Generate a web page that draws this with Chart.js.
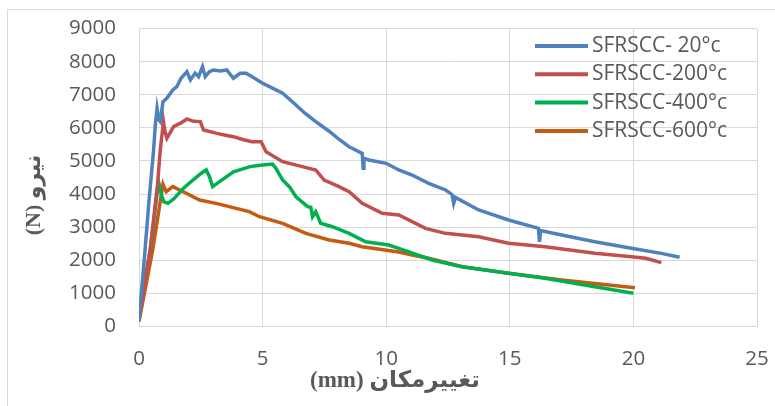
<!DOCTYPE html>
<html>
<head>
<meta charset="utf-8">
<script src="https://cdn.jsdelivr.net/npm/chart.js@4"></script>
<style>
    body { margin: 0; background: #fff; overflow: hidden; }
    #frame { position: absolute; left: 7px; top: 9px; width: 800px; height: 420px; border: 1px solid #d9d9d9; }
    #myChart { position: absolute; left: 0; top: 0; }
</style>
</head>
<body>
<div id="frame"></div>
<canvas id="myChart" width="775" height="406"></canvas>
<script>
// داده‌ها از روی نمودار خوانده شده
const seriesLabels = ['SFRSCC- 20°c', 'SFRSCC-200°c', 'SFRSCC-400°c', 'SFRSCC-600°c'];

const x20 = [0, 0.2, 0.39, 0.59, 0.66, 0.73, 0.8, 0.86, 0.97, 1.13, 1.37, 1.53, 1.7, 1.94, 2.08, 2.27, 2.41, 2.57, 2.68, 2.85,
    3.01, 3.3, 3.55, 3.82, 4.09, 4.33, 4.56, 5.0, 5.4, 5.81, 6.35, 6.7, 7.15, 7.69, 8.1, 8.5, 9.03, 9.07, 9.1, 9.3,
    10.0, 10.51, 11.05, 11.72, 12.4, 12.66, 12.73, 12.8, 13.74, 14.95, 16.16, 16.2, 16.25, 17.1, 18.44, 19.92, 21.13, 21.87];
const y20 = [200, 1900, 3670, 5330, 6090, 6590, 6250, 6190, 6790, 6900, 7145, 7245, 7500, 7700, 7450, 7650, 7550, 7850, 7550, 7700,
    7750, 7720, 7750, 7500, 7650, 7650, 7550, 7350, 7200, 7045, 6690, 6450, 6190, 5900, 5650, 5430, 5230, 4780, 5080, 5030,
    4930, 4730, 4577, 4325, 4124, 3990, 3720, 3900, 3520, 3218, 2966, 2560, 2900, 2764, 2560, 2363, 2210, 2090];

const x200 = [0, 0.45, 0.75, 0.86, 0.99, 1.05, 1.13, 1.4, 1.7, 1.94, 2.2, 2.48, 2.61, 3.15, 3.5, 3.82, 4.2, 4.56, 4.94, 5.14,
    5.81, 6.61, 7.15, 7.49, 8.09, 8.5, 9.03, 9.84, 10.51, 11.59, 12.4, 13.74, 14.95, 16.43, 18.44, 19.92, 20.5, 21.13];
const y200 = [200, 2300, 4300, 5330, 6190, 5900, 5685, 6040, 6150, 6270, 6200, 6190, 5935, 5835, 5780, 5735, 5650, 5585, 5585, 5280,
    4980, 4830, 4730, 4425, 4225, 4073, 3720, 3420, 3370, 2966, 2815, 2713, 2513, 2411, 2211, 2110, 2060, 1928];

const x400 = [0, 0.45, 0.79, 0.9, 1.0, 1.17, 1.4, 1.8, 2.18, 2.52, 2.72, 2.85, 2.98, 3.3, 3.82, 4.49, 5.0, 5.4, 5.54, 5.81,
    6.08, 6.35, 6.82, 6.95, 7.02, 7.15, 7.35, 7.82, 8.5, 9.17, 10.1, 10.51, 11.86, 13.07, 14.95, 16.43, 18.44, 20.0];
const y400 = [400, 2300, 4375, 4000, 3770, 3720, 3850, 4175, 4425, 4630, 4730, 4525, 4225, 4400, 4676, 4830, 4880, 4910, 4780, 4425,
    4225, 3920, 3620, 3600, 3317, 3470, 3118, 3015, 2815, 2562, 2462, 2362, 2009, 1806, 1607, 1456, 1202, 1003];

const x600 = [0, 0.55, 0.97, 1.1, 1.37, 1.91, 2.45, 3.12, 3.93, 4.46, 4.87, 5.81, 6.75, 7.69, 8.5, 9.03, 10.51, 11.05, 11.72,
    13.07, 14.95, 17.1, 20.06];
const y600 = [150, 2300, 4300, 4073, 4225, 4024, 3820, 3720, 3570, 3470, 3317, 3118, 2815, 2613, 2513, 2411, 2250, 2160, 2060,
    1806, 1607, 1405, 1172];

const xTitle = 'تغییرمکان (mm)';
const yTitle = 'نیرو (N)';

const colors = ['#4f81bd', '#c0504d', '#00b050', '#c55a11'];
const textColor = '#595959';

function toPoints(xs, ys) {
    return xs.map((x, i) => ({ x: x, y: ys[i] }));
}

// لژند و عنوان محورها دستی رسم می‌شوند
const extrasPlugin = {
    id: 'extras',
    afterDraw(chart) {
        const ctx = chart.ctx;
        ctx.save();
        chart.data.datasets.forEach((ds, i) => {
            const y = 46 + i * 28.3;
            ctx.strokeStyle = ds.borderColor;
            ctx.lineWidth = 4;
            ctx.beginPath();
            ctx.moveTo(535, y);
            ctx.lineTo(588, y);
            ctx.stroke();
            ctx.fillStyle = textColor;
            ctx.font = '21px "Open Sans"';
            ctx.textBaseline = 'middle';
            ctx.textAlign = 'left';
            ctx.fillText(ds.label, 592, y);
        });

        ctx.fillStyle = textColor;
        ctx.direction = 'rtl';
        ctx.textAlign = 'center';
        ctx.textBaseline = 'middle';
        ctx.font = 'bold 23px "Liberation Serif", "DejaVu Sans"';
        ctx.fillText(xTitle, 395, 381);

        ctx.translate(34, 195);
        ctx.rotate(-Math.PI / 2);
        ctx.font = 'bold 22px "Liberation Serif", "DejaVu Sans"';
        ctx.fillText(yTitle, 0, 0);
        ctx.restore();
    }
};

const datasets = [[x20, y20], [x200, y200], [x400, y400], [x600, y600]].map((d, i) => ({
    label: seriesLabels[i],
    data: toPoints(d[0], d[1]),
    borderColor: colors[i],
    backgroundColor: colors[i],
    borderWidth: 3.5,
    pointRadius: 0,
    tension: 0
}));

new Chart(document.getElementById('myChart'), {
    type: 'line',
    data: { datasets: datasets },
    options: {
        responsive: false,
        animation: false,
        layout: { padding: { left: 0, right: 18, top: 28.6, bottom: 0 } },
        scales: {
            x: {
                type: 'linear',
                min: 0,
                max: 25,
                ticks: { stepSize: 5, color: textColor, font: { family: 'Open Sans', size: 20.5 }, padding: 20 },
                grid: { color: '#d9d9d9', drawTicks: false },
                border: { color: '#d9d9d9' },
                afterFit(scale) {
                    scale.height = 79.5;
                    scale.paddingLeft = 0;
                    scale.paddingRight = 0;
                }
            },
            y: {
                min: 0,
                max: 9000,
                ticks: {
                    stepSize: 1000, color: textColor, font: { family: 'Open Sans', size: 20.5 }, padding: 23,
                    callback: value => String(value)
                },
                grid: { color: '#d9d9d9', drawTicks: false },
                border: { color: '#d9d9d9' },
                afterFit(scale) {
                    scale.width = 139;
                    scale.paddingTop = 0;
                    scale.paddingBottom = 0;
                }
            }
        },
        plugins: {
            legend: { display: false },
            tooltip: { enabled: false }
        }
    },
    plugins: [extrasPlugin]
});
</script>
</body>
</html>
